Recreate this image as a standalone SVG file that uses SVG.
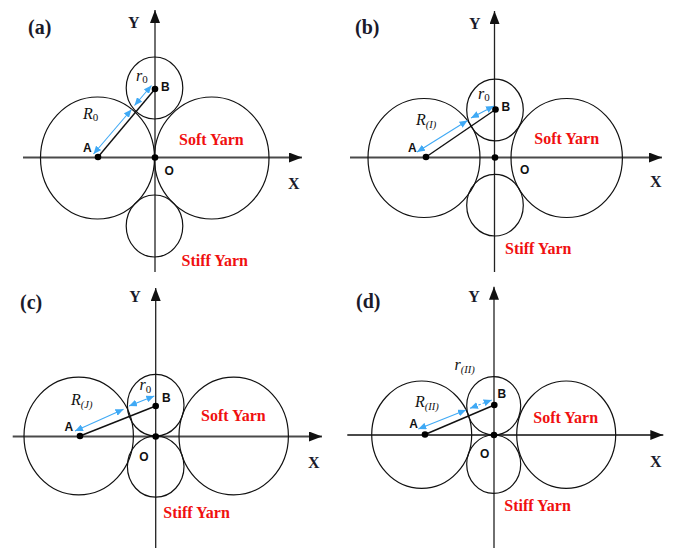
<svg xmlns="http://www.w3.org/2000/svg" width="674" height="548" viewBox="0 0 674 548">
<style>
.bg{fill:#fff}
.yarn{fill:none;stroke:#111;stroke-width:1.2}
.xaxis{stroke:#4a4a4a;stroke-width:2;fill:none}
.yaxis{stroke:#222;stroke-width:1.3;fill:none}
.radius{stroke:#111;stroke-width:1.4}
.dim{stroke:#3fa9f5;stroke-width:1.1;fill:none}
.dash{stroke-dasharray:2.5 2}
.dot{fill:#000}
.panel{font-family:"Liberation Serif","Times New Roman",serif;font-weight:bold;font-size:20px;fill:#1a1a2a}
.axl{font-family:"Liberation Serif","Times New Roman",serif;font-weight:bold;font-size:16px;fill:#1a1a2a}
.pt{font-family:"Liberation Sans",Arial,sans-serif;font-weight:bold;font-size:12px;fill:#111}
.red{font-family:"Liberation Serif","Times New Roman",serif;font-weight:bold;font-size:16px;fill:#f01010}
.math{font-family:"Liberation Serif","Times New Roman",serif;font-style:italic;font-size:16px;fill:#111}
.sub0{font-style:normal;font-size:11px}
.subi{font-size:10.5px}
</style>
<defs>
<marker id="axArrow" markerUnits="userSpaceOnUse" markerWidth="13" markerHeight="10" refX="13" refY="5" orient="auto">
<path d="M0,0 L13,5 L0,10 z" fill="#111"/>
</marker>
<marker id="blueArrow" markerUnits="userSpaceOnUse" markerWidth="8" markerHeight="7" refX="8" refY="3.5" orient="auto-start-reverse">
<path d="M0,0 L8,3.5 L0,7 z" fill="#3fa9f5"/>
</marker>
</defs>
<rect class="bg" x="0" y="0" width="674" height="548"/>

<!-- Panel (a) -->
<g id="panel-a">
<text class="panel" x="28" y="34">(a)</text>
<g id="a-axes">
<line class="xaxis" x1="23" y1="157.5" x2="302" y2="157.5" marker-end="url(#axArrow)"/>
<line class="yaxis" x1="155" y1="272" x2="155" y2="10" marker-end="url(#axArrow)"/>
<text class="axl" x="128" y="28">Y</text>
<text class="axl" x="288" y="189">X</text>
</g>
<g id="a-soft-left"><ellipse class="yarn" cx="97.5" cy="158" rx="57" ry="61"/></g>
<g id="a-soft-right"><ellipse class="yarn" cx="211.7" cy="158" rx="57.3" ry="61"/>
<text class="red" x="179" y="145">Soft Yarn</text></g>
<g id="a-stiff-top"><ellipse class="yarn" cx="154.5" cy="88" rx="28.3" ry="31"/></g>
<g id="a-stiff-bottom"><ellipse class="yarn" cx="154.5" cy="226" rx="28.3" ry="31"/>
<text class="red" x="181.5" y="265.5">Stiff Yarn</text></g>
<g id="a-connectors">
<line class="radius" x1="98" y1="157" x2="155" y2="89"/>
<line class="dim" x1="93.5" y1="154" x2="131.5" y2="109.5" marker-start="url(#blueArrow)" marker-end="url(#blueArrow)"/>
<line class="dim" x1="134.5" y1="105.5" x2="151.5" y2="85.5" marker-start="url(#blueArrow)" marker-end="url(#blueArrow)"/>
</g>
<g id="a-points">
<circle class="dot" cx="98" cy="157" r="3.3"/><text class="pt" x="83" y="152">A</text>
<circle class="dot" cx="155" cy="89" r="3.3"/><text class="pt" x="161" y="91">B</text>
<circle class="dot" cx="155" cy="157.5" r="3.3"/><text class="pt" x="164.5" y="175">O</text>
<text class="math" x="83" y="119">R<tspan class="sub0" dy="2">0</tspan></text>
<text class="math" x="136" y="81">r<tspan class="sub0" dy="2">0</tspan></text>
</g>
</g>

<!-- Panel (b) -->
<g id="panel-b">
<text class="panel" x="355" y="34">(b)</text>
<g id="b-axes">
<line class="xaxis" x1="350" y1="157.5" x2="662" y2="157.5" marker-end="url(#axArrow)"/>
<line class="yaxis" x1="494.5" y1="272" x2="494.5" y2="11" marker-end="url(#axArrow)"/>
<text class="axl" x="469" y="28.5">Y</text>
<text class="axl" x="650" y="187">X</text>
</g>
<g id="b-soft-left"><ellipse class="yarn" cx="424" cy="158" rx="56" ry="59.5"/></g>
<g id="b-soft-right"><ellipse class="yarn" cx="566.7" cy="158" rx="55.7" ry="59.5"/>
<text class="red" x="534.3" y="144">Soft Yarn</text></g>
<g id="b-stiff-top"><ellipse class="yarn" cx="495" cy="110" rx="28.3" ry="30.8"/></g>
<g id="b-stiff-bottom"><ellipse class="yarn" cx="495" cy="205.2" rx="28.3" ry="30.8"/>
<text class="red" x="505" y="253.5">Stiff Yarn</text></g>
<g id="b-connectors">
<line class="radius" x1="426" y1="157" x2="495.5" y2="109.5"/>
<line class="dim" x1="417" y1="152" x2="467.5" y2="120.5" marker-start="url(#blueArrow)" marker-end="url(#blueArrow)"/>
<line class="dim" x1="471" y1="118" x2="494" y2="106" marker-start="url(#blueArrow)" marker-end="url(#blueArrow)"/>
</g>
<g id="b-points">
<circle class="dot" cx="426" cy="157" r="3.3"/><text class="pt" x="408" y="152">A</text>
<circle class="dot" cx="495.5" cy="109.5" r="3.3"/><text class="pt" x="501.5" y="110.5">B</text>
<circle class="dot" cx="495" cy="157.5" r="3.3"/><text class="pt" x="520" y="174">O</text>
<text class="math" x="416" y="125">R<tspan class="subi" dy="3">(I)</tspan></text>
<text class="math" x="478" y="98.5">r<tspan class="sub0" dy="2.5">0</tspan></text>
</g>
</g>

<!-- Panel (c) -->
<g id="panel-c">
<text class="panel" x="20" y="308.5">(c)</text>
<g id="c-axes">
<line class="xaxis" x1="12.7" y1="436.5" x2="322" y2="436.5" marker-end="url(#axArrow)"/>
<line class="yaxis" x1="155.7" y1="548" x2="155.7" y2="288" marker-end="url(#axArrow)"/>
<text class="axl" x="129.3" y="301.7">Y</text>
<text class="axl" x="308" y="468.3">X</text>
</g>
<g id="c-soft-left"><ellipse class="yarn" cx="78.7" cy="436" rx="54.7" ry="58.8"/></g>
<g id="c-soft-right"><ellipse class="yarn" cx="233.7" cy="436" rx="54.7" ry="58.8"/>
<text class="red" x="201" y="420.7">Soft Yarn</text></g>
<g id="c-stiff-top"><ellipse class="yarn" cx="155.7" cy="405.2" rx="28.3" ry="30.8"/></g>
<g id="c-stiff-bottom"><ellipse class="yarn" cx="155.7" cy="466.6" rx="28.3" ry="30.6"/>
<text class="red" x="163.3" y="518.3">Stiff Yarn</text></g>
<g id="c-connectors">
<line class="radius" x1="80" y1="436" x2="155.7" y2="406"/>
<line class="dim" x1="75" y1="431" x2="123.5" y2="409.3" marker-start="url(#blueArrow)" marker-end="url(#blueArrow)"/>
<line class="dim" x1="129" y1="406" x2="154.3" y2="396" marker-start="url(#blueArrow)" marker-end="url(#blueArrow)"/>
</g>
<g id="c-points">
<circle class="dot" cx="80" cy="436" r="3.3"/><text class="pt" x="64.5" y="430.7">A</text>
<circle class="dot" cx="155.7" cy="406" r="3.3"/><text class="pt" x="162" y="402">B</text>
<circle class="dot" cx="155.7" cy="436.5" r="3.3"/><text class="pt" x="139.3" y="460.7">O</text>
<text class="math" x="71" y="405">R<tspan class="subi" dy="3">(J)</tspan></text>
<text class="math" x="139.5" y="390">r<tspan class="sub0" dy="2.5">0</tspan></text>
</g>
</g>

<!-- Panel (d) -->
<g id="panel-d">
<text class="panel" x="356" y="308">(d)</text>
<g id="d-axes">
<line class="xaxis" x1="347.3" y1="435" x2="663.3" y2="435" marker-end="url(#axArrow)"/>
<line class="yaxis" x1="494" y1="548" x2="494" y2="286.7" marker-end="url(#axArrow)"/>
<text class="axl" x="468.3" y="301.7">Y</text>
<text class="axl" x="650" y="466.7">X</text>
</g>
<g id="d-soft-left"><ellipse class="yarn" cx="421.7" cy="434.7" rx="50" ry="53.7"/></g>
<g id="d-soft-right"><ellipse class="yarn" cx="566.2" cy="434.7" rx="49.5" ry="53.7"/>
<text class="red" x="533.3" y="423.3">Soft Yarn</text></g>
<g id="d-stiff-top"><ellipse class="yarn" cx="493.7" cy="405.8" rx="27" ry="29.2"/></g>
<g id="d-stiff-bottom"><ellipse class="yarn" cx="493.7" cy="464.2" rx="27" ry="29.2"/>
<text class="red" x="504.3" y="510.7">Stiff Yarn</text></g>
<g id="d-connectors">
<line class="radius" x1="425" y1="434.5" x2="494.3" y2="405"/>
<line class="dim" x1="418.3" y1="429" x2="466" y2="410" marker-start="url(#blueArrow)" marker-end="url(#blueArrow)"/>
<line class="dim dash" x1="470" y1="408.3" x2="491.7" y2="400" marker-start="url(#blueArrow)" marker-end="url(#blueArrow)"/>
</g>
<g id="d-points">
<circle class="dot" cx="425" cy="434.5" r="3.3"/><text class="pt" x="409.3" y="428.3">A</text>
<circle class="dot" cx="494.3" cy="405" r="3.3"/><text class="pt" x="497.5" y="398.3">B</text>
<circle class="dot" cx="494" cy="435" r="3.3"/><text class="pt" x="480" y="458.3">O</text>
<text class="math" x="415" y="406.5">R<tspan class="subi" dy="3">(II)</tspan></text>
<text class="math" x="454.5" y="370">r<tspan class="subi" dy="3">(II)</tspan></text>
</g>
</g>
</svg>
